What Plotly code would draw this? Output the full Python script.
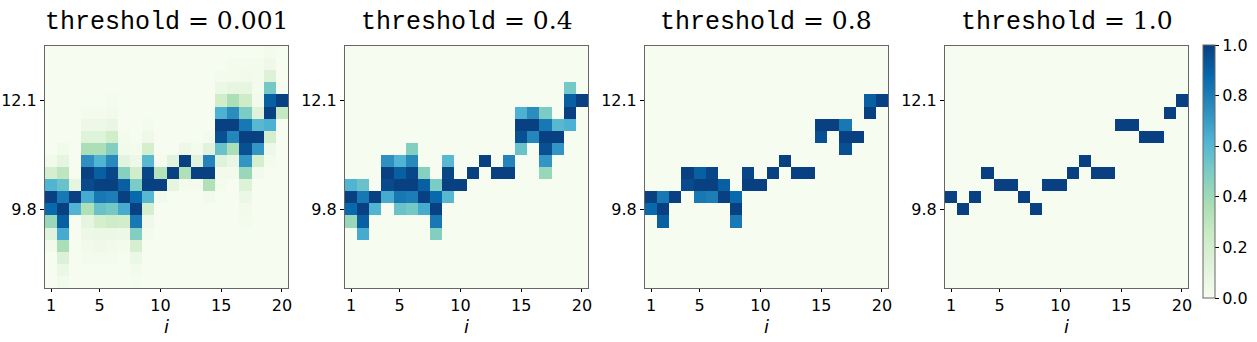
import numpy as np
import plotly.graph_objects as go
from plotly.subplots import make_subplots

# ================================
# Data: per-column probability map (rows listed top -> bottom)
# ================================

steps = list(range(1, 21))
n_rows = 20
rows = list(range(n_rows))          # row 0 is the top of the picture
y_tickvals = [4, 13]
y_ticktext = ['12.1', '9.8']
thresholds = [0.001, 0.4, 0.8, 1.0]
threshold_labels = ['0.001', '0.4', '0.8', '1.0']

# {row: value} for every column i = 1..20 (cells left out are 0)
col_01 = {9: 0.03, 10: 0.2, 11: 0.62, 12: 1.0, 13: 0.87, 14: 0.42, 15: 0.12, 16: 0.03}
col_02 = {8: 0.03, 9: 0.1, 10: 0.3, 11: 0.55, 12: 0.82, 13: 1.0, 14: 0.9, 15: 0.65,
          16: 0.37, 17: 0.15, 18: 0.06, 19: 0.03}
col_03 = {11: 0.1, 12: 1.0, 13: 0.62}
col_04 = {5: 0.02, 6: 0.05, 7: 0.13, 8: 0.36, 9: 0.74, 10: 1.0, 11: 0.97, 12: 0.65,
          13: 0.35, 14: 0.1, 15: 0.05, 16: 0.03, 17: 0.02}
col_05 = {5: 0.02, 6: 0.05, 7: 0.13, 8: 0.36, 9: 0.62, 10: 0.9, 11: 1.0, 12: 0.82,
          13: 0.55, 14: 0.2, 15: 0.06, 16: 0.04, 17: 0.02}
col_06 = {4: 0.02, 5: 0.03, 6: 0.08, 7: 0.22, 8: 0.48, 9: 0.76, 10: 0.98, 11: 1.0,
          12: 0.8, 13: 0.52, 14: 0.24, 15: 0.06, 16: 0.03, 17: 0.02}
col_07 = {7: 0.02, 8: 0.03, 9: 0.11, 10: 0.47, 11: 0.9, 12: 1.0, 13: 0.65, 14: 0.22,
          15: 0.05, 16: 0.02}
col_08 = {8: 0.02, 9: 0.05, 10: 0.22, 11: 0.5, 12: 0.87, 13: 1.0, 14: 0.82, 15: 0.48,
          16: 0.18, 17: 0.06, 18: 0.03, 19: 0.01}
col_09 = {6: 0.02, 7: 0.04, 8: 0.2, 9: 0.6, 10: 0.98, 11: 1.0, 12: 0.6, 13: 0.2,
          14: 0.04, 15: 0.02}
col_10 = {9: 0.01, 10: 0.33, 11: 1.0, 12: 0.03}
col_11 = {9: 0.12, 10: 1.0, 11: 0.1}
col_12 = {8: 0.05, 9: 1.0, 10: 0.35, 11: 0.02}
col_13 = {8: 0.02, 9: 0.12, 10: 1.0, 11: 0.02}
col_14 = {7: 0.02, 8: 0.12, 9: 0.78, 10: 1.0, 11: 0.34, 12: 0.03}
col_15 = {2: 0.02, 3: 0.06, 4: 0.22, 5: 0.63, 6: 1.0, 7: 0.95, 8: 0.55, 9: 0.13,
          10: 0.03, 11: 0.02}
col_16 = {1: 0.02, 2: 0.02, 3: 0.09, 4: 0.36, 5: 0.75, 6: 1.0, 7: 0.77, 8: 0.36,
          9: 0.08, 10: 0.03}
col_17 = {1: 0.02, 2: 0.03, 3: 0.09, 4: 0.23, 5: 0.5, 6: 0.82, 7: 1.0, 8: 0.95,
          9: 0.72, 10: 0.42, 11: 0.14, 12: 0.06, 13: 0.03, 14: 0.02}
col_18 = {1: 0.02, 2: 0.02, 3: 0.02, 4: 0.03, 5: 0.13, 6: 0.6, 7: 1.0, 8: 0.72,
          9: 0.2, 10: 0.03}
col_19 = {0: 0.02, 1: 0.04, 2: 0.14, 3: 0.52, 4: 0.9, 5: 1.0, 6: 0.63, 7: 0.2,
          8: 0.05, 9: 0.02}
col_20 = {3: 0.01, 4: 1.0, 5: 0.27}

columns = [col_01, col_02, col_03, col_04, col_05, col_06, col_07, col_08, col_09, col_10,
           col_11, col_12, col_13, col_14, col_15, col_16, col_17, col_18, col_19, col_20]

prob = np.zeros((n_rows, len(steps)))
for j, col in enumerate(columns):
    for r, v in col.items():
        prob[r, j] = v

# ================================
# Figure
# ================================

W, H = 1257, 342
ML, MR, MT, MB = 45, 45, 46, 54          # plot area = 45..1212 x 46..288
IW, IH = W - ML - MR, H - MT - MB
panels_px = [(45, 288), (345, 588), (645, 888), (945, 1188)]


def fx(px):
    return (px - ML) / IW


def fy(py):
    return (H - MB - py) / IH


fig = make_subplots(rows=1, cols=4)

tick_font = dict(family='DejaVu Sans', size=16, color='black')
frame = '#666666'

for k, (thr, (x0, x1)) in enumerate(zip(thresholds, panels_px)):
    z = np.where(prob >= thr, prob, 0.0)
    fig.add_trace(go.Heatmap(
        z=z, x=steps, y=rows,
        colorscale='GnBu', zmin=0, zmax=1,
        showscale=(k == 3),
        hoverinfo='skip',
        colorbar=dict(
            x=fx(1203), xanchor='left', xpad=0,
            y=fy((45 + 298) / 2), yanchor='middle', ypad=0,
            len=253 / IH, lenmode='fraction', thickness=12,
            outlinecolor=frame, outlinewidth=1,
            tickvals=[0, 0.2, 0.4, 0.6, 0.8, 1.0],
            ticktext=['0.0', '0.2', '0.4', '0.6', '0.8', '1.0'],
            ticks='outside', ticklen=4, tickcolor='black',
            tickfont=tick_font,
        ),
    ), row=1, col=k + 1)

    ax = '' if k == 0 else str(k + 1)
    fig.layout['xaxis' + ax].update(
        domain=[fx(x0), fx(x1)], range=[0.5, 20.5], automargin=False,
        tickvals=[1, 5, 10, 15, 20], ticks='outside', ticklen=3, tickcolor='black',
        tickfont=tick_font, showgrid=False, zeroline=False,
        showline=True, linecolor=frame, mirror=True,
    )
    fig.layout['yaxis' + ax].update(
        domain=[0, 1], range=[n_rows - 0.5, -0.5], automargin=False,
        tickvals=y_tickvals, ticktext=y_ticktext, ticks='outside', ticklen=4,
        tickcolor='black', tickfont=tick_font, showgrid=False, zeroline=False,
        showline=True, linecolor=frame, mirror=True,
    )

    # panel title
    fig.add_annotation(
        x=fx((x0 + x1) / 2), y=fy(21), xref='paper', yref='paper',
        xanchor='center', yanchor='middle', showarrow=False,
        text=('<span style="font-family:Liberation Mono">threshold</span>'
              ' = ' + threshold_labels[k]),
        font=dict(family='DejaVu Serif', size=25, color='black'),
    )
    # x axis label
    fig.add_annotation(
        x=fx((x0 + x1) / 2), y=fy(315), xref='paper', yref='paper',
        xanchor='center', yanchor='top', showarrow=False, borderpad=0,
        text='<i>i</i>', font=dict(family='DejaVu Sans', size=18, color='black'),
    )

fig.update_layout(
    width=W, height=H,
    margin=dict(l=ML, r=MR, t=MT, b=MB, autoexpand=False),
    paper_bgcolor='white', plot_bgcolor='white',
    showlegend=False,
)

# the page body has a default 8px margin; drop it so the figure sits at 0,0
fig.write_html("out.html", config={'displayModeBar': False},
               post_script="document.body.style.margin='0';")
